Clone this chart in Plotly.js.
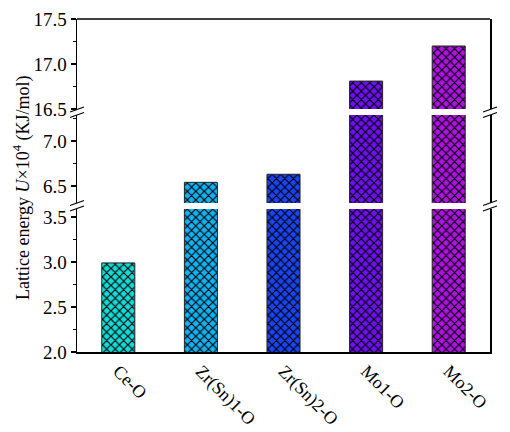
<!DOCTYPE html>
<html>
<head>
<meta charset="utf-8">
<script src="https://cdn.plot.ly/plotly-3.0.1.min.js"></script>
<style>html,body{margin:0;padding:0;background:#fff;}#chart{width:510px;height:432px;}</style>
</head>
<body>
<div id="chart"></div>
<script>
const categories = ["Ce-O", "Zr(Sn)1-O", "Zr(Sn)2-O", "Mo1-O", "Mo2-O"];
const latticeEnergy = [2.99, 6.54, 6.63, 16.81, 17.20];
const barColors = ["#10dcd8", "#10b4f4", "#1a44f4", "#6e10f0", "#b012e4"];
const bottomRange = [2.0, 3.589];
const middleRange = [6.31, 7.29];
const topRange = [16.5, 17.5];

const font = "'Liberation Serif', 'Times New Roman', serif";
const axisNames = ["y", "y2", "y3"];
const traces = [];
axisNames.forEach(ax => {
  categories.forEach((cat, i) => {
    traces.push({
      type: "bar",
      x: [cat],
      y: [latticeEnergy[i]],
      xaxis: "x",
      yaxis: ax,
      width: 0.4,
      showlegend: false,
      hoverinfo: "x+y",
      marker: {
        color: barColors[i],
        line: {color: "#222", width: 1},
        pattern: {shape: "x", fillmode: "replace", bgcolor: barColors[i], fgcolor: "#000000", fgopacity: 1, size: 6, solidity: 0.35}
      }
    });
  });
});

// geometry helpers (pixel -> paper) for decoration only
const L = 77, T = 19, W = 413, H = 333;
const px = x => (x - L) / W;
const py = y => (T + H - y) / H;

const yBase = {
  showline: true, linecolor: "#000", linewidth: 1.5, mirror: true,
  ticks: "outside", ticklen: 5, tickwidth: 1.3, tickcolor: "#000",
  dtick: 0.5, tickformat: ".1f", showgrid: false, zeroline: false,
  tickfont: {family: font, size: 19, color: "#000"},
  minor: {dtick: 0.25, ticks: "outside", ticklen: 3, tickwidth: 1, tickcolor: "#000"},
  anchor: "x"
};

const shapes = [
  {type: "line", xref: "paper", yref: "paper", x0: 0, x1: 1, y0: 1, y1: 1, line: {color: "#000", width: 1.5}}
];
// break marks on left and right axes
[109.5, 115.0, 203.0, 208.5].forEach(yy => {
  [L, L + W].forEach(xx => {
    shapes.push({type: "line", xref: "paper", yref: "paper",
      x0: px(xx - 7), y0: py(yy + 2.5), x1: px(xx + 7), y1: py(yy - 2.5),
      line: {color: "#000", width: 1.3}});
  });
});

const layout = {
  width: 510, height: 432,
  margin: {l: L, r: 20, t: T, b: 80},
  paper_bgcolor: "#fff", plot_bgcolor: "#fff",
  font: {family: font, color: "#000"},
  barmode: "overlay",
  xaxis: {
    showline: true, linecolor: "#000", linewidth: 1.5, ticks: "",
    tickangle: 45, range: [-0.5, 4.5], anchor: "y",
    categoryorder: "array", categoryarray: categories,
    tickfont: {family: font, size: 18, color: "#000"}
  },
  yaxis: Object.assign({}, yBase, {domain: [0, py(209)], range: bottomRange}),
  yaxis2: Object.assign({}, yBase, {domain: [py(203), py(115)], range: middleRange}),
  yaxis3: Object.assign({}, yBase, {domain: [py(109), 1], range: topRange}),
  shapes: shapes,
  annotations: [{
    xref: "paper", yref: "paper", x: px(22), y: py(188),
    xanchor: "center", yanchor: "middle",
    text: "Lattice energy <i>U</i>×10<sup>4</sup> (KJ/mol)",
    textangle: -90, showarrow: false,
    font: {family: font, size: 18, color: "#000"}
  }]
};

Plotly.newPlot("chart", traces, layout, {displayModeBar: false, staticPlot: true});
</script>
</body>
</html>
